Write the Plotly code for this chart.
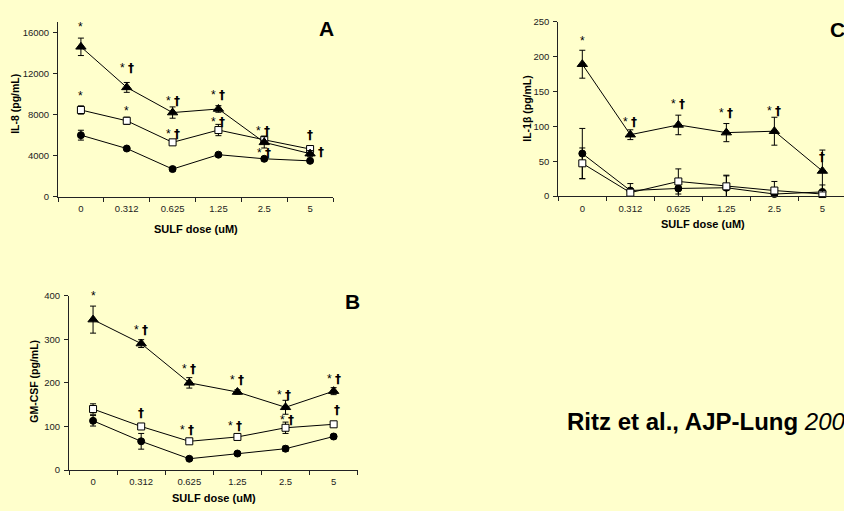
import plotly.graph_objects as go

# ---------------- data ----------------
doses = ["0", "0.312", "0.625", "1.25", "2.5", "5"]

# Panel A : IL-8 (pg/mL)
il8_tri = [14600, 10650, 8200, 8550, 5300, 4200]
il8_tri_err = [850, 480, 550, 320, 550, 300]
il8_sq = [8450, 7400, 5300, 6500, 5550, 4650]
il8_sq_err = [400, 350, 200, 550, 350, 250]
il8_circ = [6000, 4700, 2700, 4100, 3700, 3500]
il8_circ_err = [480, 150, 200, 150, 200, 150]
il8_ticks = [0, 4000, 8000, 12000, 16000]

# Panel C : IL-1beta (pg/mL)
il1b_tri = [189, 88, 102, 91, 93, 36]
il1b_tri_err = [20, 7, 14, 13, 20, 30]
il1b_circ = [61, 8, 11, 12, 3, 6]
il1b_circ_err = [36, 10, 12, 18, 8, 10]
il1b_sq = [47, 5, 21, 14, 8, 3]
il1b_sq_err = [22, 5, 18, 15, 13, 5]
il1b_ticks = [0, 50, 100, 150, 200, 250]

# Panel B : GM-CSF (pg/mL)
gm_tri = [345, 290, 200, 179, 144, 181]
gm_tri_err = [31, 9, 12, 5, 16, 8]
gm_sq = [140, 100, 66, 76, 97, 105]
gm_sq_err = [12, 5, 5, 5, 13, 5]
gm_circ = [113, 66, 26, 38, 49, 77]
gm_circ_err = [12, 18, 4, 4, 6, 5]
gm_ticks = [0, 100, 200, 300, 400]

# significance marks: (series, dose index, text, xshift px, yshift px)
marks_A = [("tri", 0, "*", 0, 20), ("tri", 1, "* †", 0, 19), ("tri", 2, "* †", 0, 12),
           ("tri", 3, "* †", 0, 14), ("sq", 4, "* †", -1, 9), ("sq", 5, "†", 0, 14),
           ("tri", 4, "* †", 0, -11), ("tri", 5, "†", 11, 2),
           ("sq", 0, "*", 0, 14), ("sq", 1, "*", 0, 10), ("sq", 2, "* †", 0, 8),
           ("sq", 3, "* †", 0, 8)]
marks_C = [("tri", 0, "*", 0, 23), ("tri", 1, "* †", 0, 13), ("tri", 2, "* †", 0, 21),
           ("tri", 3, "* †", 0, 20), ("tri", 4, "* †", 0, 20), ("tri", 5, "†", 0, 14)]
marks_B = [("tri", 0, "*", 0, 24), ("tri", 1, "* †", 0, 14), ("tri", 2, "* †", 0, 14),
           ("tri", 3, "* †", 0, 12), ("tri", 4, "* †", -2, 12), ("tri", 5, "* †", 0, 12),
           ("sq", 1, "†", 0, 13), ("sq", 2, "* †", -2, 11), ("sq", 3, "* †", -2, 11),
           ("sq", 4, "* †", 1, 8), ("sq", 5, "†", 3, 14)]

# ---------------- layout helpers ----------------
W, H = 844, 511
FONT = "Liberation Sans, Arial, sans-serif"
BG = "#FFFFCC"
DAGGER = '<span style="font-family:DejaVu Sans;font-weight:bold">†</span>'


def fx(p):
    return p / W


def fy(p):
    return 1 - p / H


panels = [
    dict(x="x", y="y", xd=(58, 333), yd=(16, 195), xr=[-0.5, 5.5], yr=[0, 17050], ticks=il8_ticks,
         series={"circ": (il8_circ, il8_circ_err), "sq": (il8_sq, il8_sq_err), "tri": (il8_tri, il8_tri_err)},
         marks=marks_A, ytitle="IL-8 (pg/mL)", ytitle_pos=(15, 100), xtitle_pos=(195.5, 228),
         letter="A", letter_pos=(317, 23.5)),
    dict(x="x2", y="y2", xd=(558.3, 844), yd=(16, 194.3), xr=[-0.5, 5.45], yr=[0, 250], ticks=il1b_ticks,
         series={"circ": (il1b_circ, il1b_circ_err), "sq": (il1b_sq, il1b_sq_err), "tri": (il1b_tri, il1b_tri_err)},
         marks=marks_C, ytitle="IL-1β (pg/mL)", ytitle_pos=(527, 105), xtitle_pos=(702.5, 223),
         letter="C", letter_pos=(828, 24)),
    dict(x="x3", y="y3", xd=(69, 357.7), yd=(296, 474.3), xr=[-0.5, 5.5], yr=[0, 400], ticks=gm_ticks,
         series={"circ": (gm_circ, gm_circ_err), "sq": (gm_sq, gm_sq_err), "tri": (gm_tri, gm_tri_err)},
         marks=marks_B, ytitle="GM-CSF (pg/mL)", ytitle_pos=(34, 384), xtitle_pos=(213.5, 503),
         letter="B", letter_pos=(343, 302.5)),
]

marker_style = {
    "circ": dict(symbol="circle", size=7, color="black", line=dict(color="black", width=1)),
    "sq": dict(symbol="square", size=7, color="white", line=dict(color="black", width=1)),
    "tri": dict(symbol="triangle-up", size=9, color="black", line=dict(color="black", width=1)),
}

fig = go.Figure()
annotations = []
layout = {}

for i, p in enumerate(panels):
    suffix = "" if i == 0 else str(i + 1)
    for key in ["circ", "sq", "tri"]:
        vals, err = p["series"][key]
        fig.add_trace(go.Scatter(
            x=doses, y=vals, xaxis=p["x"], yaxis=p["y"], mode="lines+markers",
            line=dict(color="black", width=1), marker=marker_style[key],
            error_y=dict(type="data", array=err, color="black", thickness=1, width=3),
            showlegend=False, cliponaxis=False,
        ))
    layout["xaxis" + suffix] = dict(
        domain=[fx(p["xd"][0]), fx(p["xd"][1])], anchor=p["y"], type="category",
        categoryorder="array", categoryarray=doses, range=p["xr"],
        tickson="boundaries", ticks="outside", ticklen=4, tickcolor="#222", tickwidth=1,
        showline=True, linecolor="#222", linewidth=1, showgrid=False, zeroline=False,
        tickfont=dict(family=FONT, size=9.5, color="#222"), ticklabelstandoff=3,
    )
    layout["yaxis" + suffix] = dict(
        domain=[fy(p["yd"][1]), fy(p["yd"][0])], anchor=p["x"], range=p["yr"],
        tickvals=p["ticks"], ticktext=[str(t) for t in p["ticks"]],
        ticks="outside", ticklen=4, tickcolor="#222", tickwidth=1,
        showline=True, linecolor="#222", linewidth=1, showgrid=False, zeroline=False,
        tickfont=dict(family=FONT, size=9.5, color="#222"), ticklabelstandoff=2,
    )
    for key, idx, txt, dx, dy in p["marks"]:
        vals, _ = p["series"][key]
        # category axes: annotation x given as the category index
        annotations.append(dict(
            x=idx, y=vals[idx], xref=p["x"], yref=p["y"],
            text=txt.replace("†", DAGGER), showarrow=False,
            xshift=dx, yshift=dy, font=dict(family=FONT, size=12, color="black"),
            xanchor="center", yanchor="middle",
        ))
    annotations.append(dict(
        x=fx(p["ytitle_pos"][0]), y=fy(p["ytitle_pos"][1]), xref="paper", yref="paper",
        text="<b>" + p["ytitle"] + "</b>", textangle=-90, showarrow=False,
        font=dict(family=FONT, size=10.5, color="black"), xanchor="center", yanchor="middle",
    ))
    annotations.append(dict(
        x=fx(p["xtitle_pos"][0]), y=fy(p["xtitle_pos"][1]), xref="paper", yref="paper",
        text="<b>SULF dose (uM)</b>", showarrow=False,
        font=dict(family=FONT, size=11, color="black"), xanchor="center", yanchor="middle",
    ))
    annotations.append(dict(
        x=fx(p["letter_pos"][0]), y=fy(p["letter_pos"][1]), xref="paper", yref="paper",
        text="<b>" + p["letter"] + "</b>", showarrow=False,
        font=dict(family=FONT, size=21, color="black"), xanchor="left", yanchor="middle",
    ))

annotations.append(dict(
    x=fx(565), y=fy(425), xref="paper", yref="paper",
    text="<b>Ritz et al., AJP-Lung</b> <i>200</i>", showarrow=False,
    font=dict(family=FONT, size=24, color="black"), xanchor="left", yanchor="middle",
))

fig.update_layout(
    width=W, height=H, margin=dict(l=0, r=0, t=0, b=0),
    paper_bgcolor=BG, plot_bgcolor=BG, annotations=annotations,
    font=dict(family=FONT), **layout,
)

fig.write_html("out.html", config={"displayModeBar": False})
